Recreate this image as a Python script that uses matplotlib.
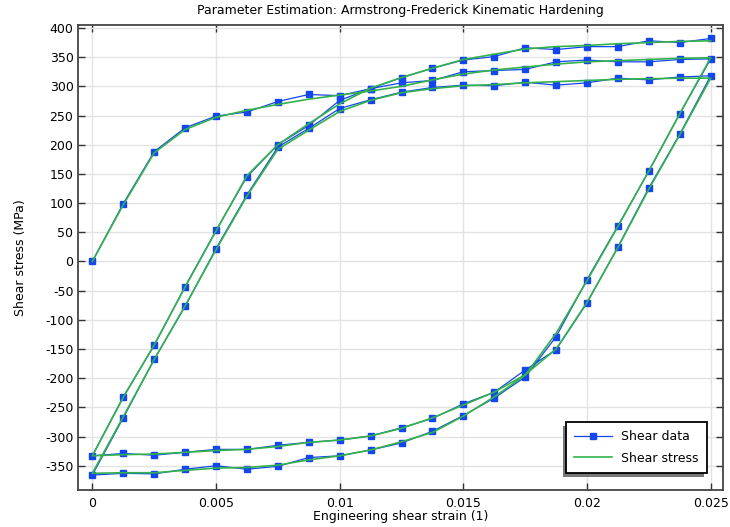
import matplotlib
matplotlib.use('Agg')
import matplotlib.pyplot as plt
from matplotlib.patches import Rectangle

# strain steps of one loading branch (0 -> 0.025)
strain_up = [0, 0.00125, 0.0025, 0.00375, 0.005, 0.00625, 0.0075, 0.00875, 0.01,
             0.01125, 0.0125, 0.01375, 0.015, 0.01625, 0.0175, 0.01875, 0.02,
             0.02125, 0.0225, 0.02375, 0.025]
strain_down = strain_up[::-1]

# measured shear stress (MPa), branch by branch in load order
data_load1 = [0, 99, 188, 229, 249, 256, 274, 286, 284, 296, 306, 310, 325, 327,
              329, 342, 345, 342, 342, 346, 347]
data_unload1 = [253, 155, 61, -31, -129, -198, -234, -264, -291, -311, -323, -333,
                -336, -351, -356, -350, -356, -364, -363, -366]
data_reload2 = [-268, -168, -77, 22, 114, 196, 228, 262, 277, 290, 298, 302, 301,
                307, 302, 306, 314, 311, 316, 318]
data_unload2 = [218, 126, 25, -71, -151, -186, -224, -244, -269, -285, -299, -306,
                -310, -315, -322, -322, -327, -332, -329, -333]
data_reload3 = [-232, -144, -43, 53, 145, 200, 233, 276, 296, 315, 331, 345, 351,
                366, 363, 368, 368, 378, 375, 382]

# fitted model (Armstrong-Frederick)
model_load1 = [0, 97, 186, 226, 247, 259, 269, 278, 285, 292, 300, 311, 321, 328,
               333, 338, 342, 344, 346, 348, 349]
model_unload1 = [253, 155, 60, -33, -123, -195, -232, -265, -293, -309, -323, -333,
                 -340, -349, -353, -354, -358, -362, -362, -363]
model_reload2 = [-266, -168, -76, 20, 112, 192, 225, 257, 276, 289, 296, 301, 303,
                 306, 308, 310, 312, 313, 314, 314]
model_unload2 = [217, 124, 24, -70, -150, -194, -224, -246, -268, -286, -299, -306,
                 -310, -317, -322, -324, -327, -330, -331, -333]
model_reload3 = [-233, -143, -44, 52, 147, 200, 236, 270, 297, 315, 331, 346, 355,
                 364, 368, 370, 373, 375, 377, 378]

xticks = [0, 0.005, 0.01, 0.015, 0.02, 0.025]
xtick_labels = ['0', '0.005', '0.01', '0.015', '0.02', '0.025']
yticks = list(range(-350, 401, 50))

strain = (strain_up + strain_down[1:] + strain_up[1:] + strain_down[1:]
          + strain_up[1:])
data = data_load1 + data_unload1 + data_reload2 + data_unload2 + data_reload3
model = model_load1 + model_unload1 + model_reload2 + model_unload2 + model_reload3

plt.rcParams['font.family'] = 'DejaVu Sans'
plt.rcParams['font.size'] = 9
plt.rcParams['axes.unicode_minus'] = False

fig = plt.figure(figsize=(7.3, 5.27), dpi=100)
ax = fig.add_axes([0.1073, 0.0702, 0.8827, 0.8824])

ax.plot(strain, data, '-s', color='#1446f0', lw=0.9, ms=5.0, mec='#1446f0',
        mfc='#1446f0', label='Shear data', zorder=3)
ax.plot(strain, model, '-', color='#34b24a', lw=1.2, label='Shear stress',
        zorder=4)

ax.set_xlim(-0.000566, 0.025485)
ax.set_ylim(-391.6, 405.1)
ax.set_xticks(xticks)
ax.set_xticklabels(xtick_labels)
ax.set_yticks(yticks)
ax.grid(True, color='#e2e2e2', lw=1)
ax.set_axisbelow(True)
ax.tick_params(direction='in', length=5, width=1, top=True, right=True,
               labelsize=9, color='#333333')
ax.tick_params(axis='x', pad=5)
ax.tick_params(axis='y', pad=3.5)
for s in ax.spines.values():
    s.set_linewidth(1.3)
    s.set_color('#444444')

ax.set_title('Parameter Estimation: Armstrong-Frederick Kinematic Hardening',
             fontsize=9, pad=8)
ax.set_xlabel('Engineering shear strain (1)', fontsize=9, labelpad=0)
ax.set_ylabel('Shear stress (MPa)', fontsize=9, labelpad=13)

leg = ax.legend(loc='lower right', bbox_to_anchor=(0.975, 0.0372),
                borderaxespad=0, fancybox=False, edgecolor='black',
                framealpha=1, handlelength=3.0, handletextpad=0.75,
                labelspacing=0.65, borderpad=0.65, fontsize=9)
leg.get_frame().set_linewidth(1.3)

fig.canvas.draw()
bb = leg.get_window_extent().transformed(ax.transAxes.inverted())
dx = 3 / (ax.bbox.width)
dy = 4 / (ax.bbox.height)
ax.add_patch(Rectangle((bb.x0 - dx, bb.y0 - dy), bb.width, bb.height,
                       transform=ax.transAxes, facecolor='#777777',
                       edgecolor='none', zorder=4.9, clip_on=False))

fig.savefig('out.png', dpi=100)
